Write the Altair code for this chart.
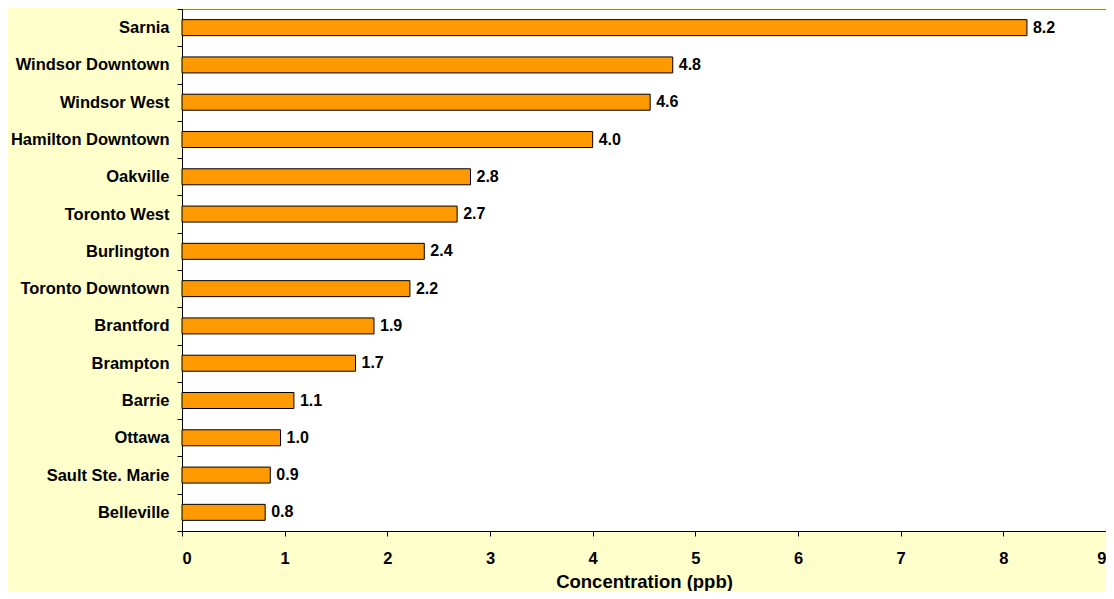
import altair as alt
import pandas as pd

stations = ["Sarnia", "Windsor Downtown", "Windsor West", "Hamilton Downtown", "Oakville",
            "Toronto West", "Burlington", "Toronto Downtown", "Brantford", "Brampton",
            "Barrie", "Ottawa", "Sault Ste. Marie", "Belleville"]
values = [8.23, 4.78, 4.56, 4.0, 2.81, 2.68, 2.36, 2.22, 1.87, 1.69, 1.09, 0.96, 0.86, 0.81]
labels = ["8.2", "4.8", "4.6", "4.0", "2.8", "2.7", "2.4", "2.2", "1.9", "1.7", "1.1", "1.0", "0.9", "0.8"]
x_ticks = [0, 1, 2, 3, 4, 5, 6, 7, 8, 9]

df = pd.DataFrame({"station": stations, "value": values, "label": labels})

FONT = "Liberation Sans"

y_enc = alt.Y("station:N", sort=stations,
              scale=alt.Scale(paddingInner=0, paddingOuter=0),
              axis=alt.Axis(title=None, tickBand="extent", labelFont=FONT, labelFontSize=16.5,
                            labelFontWeight="bold", labelColor="black", tickColor="black",
                            tickSize=5, labelPadding=8, domainColor="black", grid=False))
x_enc = alt.X("value:Q", scale=alt.Scale(domain=[0, 9], nice=False),
              axis=alt.Axis(title="Concentration (ppb)", values=x_ticks, format="d",
                            labelFont=FONT, labelFontSize=16.5, labelFontWeight="bold",
                            labelColor="black", tickColor="black", tickSize=5, labelPadding=14,
                            domainColor="black", grid=False, titleFont=FONT,
                            titleFontSize=18.5, titleFontWeight="bold", titleColor="black",
                            titleBaseline="alphabetic", titleY=56))

bars = alt.Chart(df).mark_bar(height=16, color="#FF9900", stroke="black", strokeWidth=1).encode(
    x=x_enc, y=y_enc)
text = alt.Chart(df).mark_text(align="left", baseline="middle", dx=6, font=FONT, fontSize=16,
                               fontWeight="bold", color="black").encode(
    x=alt.X("value:Q"), y=alt.Y("station:N", sort=stations), text="label:N")

chart = (bars + text).properties(
    width=924, height=522, background="#FFFFCC",
    autosize=alt.AutoSizeParams(type="none"),
    padding={"left": 174, "top": 1, "right": 0, "bottom": 60},
).configure_view(stroke="#808080", fill="white")

chart.save("out.html", embed_options={"renderer": "svg", "actions": False})
